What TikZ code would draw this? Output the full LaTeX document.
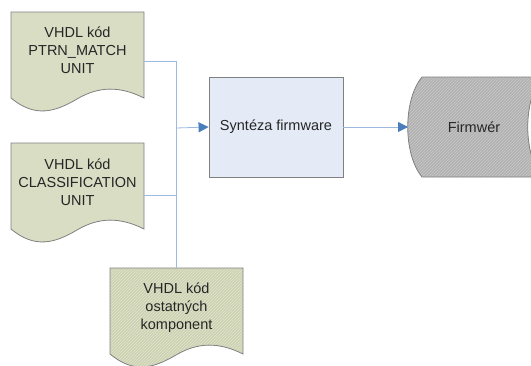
\documentclass[tikz,border=0pt]{standalone}
\usepackage{fontspec}
\setmainfont{Liberation Sans}
\usetikzlibrary{arrows.meta,patterns}
\definecolor{docfill}{HTML}{D9DDC4}
\definecolor{docbase}{HTML}{CDD2B2}
\definecolor{docstripe}{HTML}{E2E5D0}
\definecolor{boxfill}{HTML}{E5EBF6}
\definecolor{edgegray}{HTML}{808080}
\definecolor{fwbase}{HTML}{B2B2B2}
\definecolor{fwstripe}{HTML}{C8C8C8}
\definecolor{linkblue}{HTML}{9DB9E0}
\definecolor{headblue}{HTML}{4A7EBB}
\tikzset{
  shapeborder/.style={draw=edgegray, line width=0.8pt},
  lbl/.style={align=center, font=\fontsize{14.5}{18}\selectfont, text=black!85},
  link/.style={draw=linkblue, line width=0.8pt},
  arrowlink/.style={link, -{Triangle[length=10pt,width=10pt,color=headblue]}},
  procbox/.style={shapeborder, fill=boxfill, minimum width=134pt, minimum height=100pt, inner sep=0pt, lbl}
}
\newcommand{\docpath}{(11,12) -- (144,12) -- (144,98) .. controls (120,86) and (99,86) .. (77,99) .. controls (55,112) and (35,118) .. (11,98) -- cycle}
\begin{document}
\begin{tikzpicture}[x=1pt,y=-1pt]
\useasboundingbox (0,0) rectangle (531,365);
% document 1
\fill[docfill] \docpath;
\draw[shapeborder] \docpath;
\node[lbl] (d1) at (77.5,50) {VHDL kód\\PTRN\_MATCH\\UNIT};
\coordinate (d1out) at (144,61);
% document 2
\begin{scope}[shift={(0,131)}]
\fill[docfill] \docpath;
\draw[shapeborder] \docpath;
\node[lbl] (d2) at (77.5,51) {VHDL kód\\CLASSIFICATION\\UNIT};
\coordinate (d2out) at (144,64);
\end{scope}
% document 3 (hatched)
\begin{scope}[shift={(99,256)}]
\fill[docbase] \docpath;
\fill[pattern=north east lines, pattern color=docstripe] \docpath;
\draw[shapeborder] \docpath;
\node[lbl] (d3) at (77.5,52) {VHDL kód\\ostatných\\komponent};
\coordinate (d3in) at (77,12);
\end{scope}
% junction
\coordinate (j1) at (176,61);
\coordinate (j2) at (176,195);
\coordinate (jm) at (176,128);
% process box
\node[procbox] (syn) at (276,127) {Syntéza firmware};
% firmware stored data
\def\fwpath{(422,77) -- (542,77) .. controls (523,100) and (523,154) .. (542,177) -- (422,177) .. controls (403,154) and (403,100) .. (422,77) -- cycle}
\fill[fwbase] \fwpath;
\fill[pattern=north east lines, pattern color=fwstripe] \fwpath;
\draw[shapeborder] \fwpath;
\node[lbl] (fw) at (474,127) {Firmwér};
\coordinate (fwin) at (408,127);
% connectors
\draw[link] (d1out) -- (j1) -- (d3in);
\draw[link] (d2out) -- (j2);
\draw[arrowlink] (jm) -- (syn.west);
\draw[arrowlink] (syn.east) -- (fwin);
\end{tikzpicture}
\end{document}
